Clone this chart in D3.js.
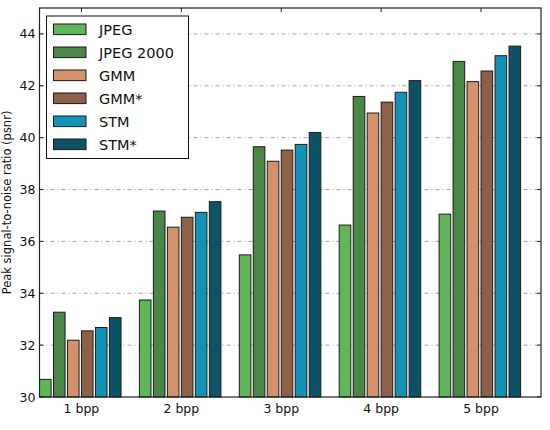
<!DOCTYPE html>
<html>
<head>
<meta charset="utf-8">
<script src="https://cdn.jsdelivr.net/npm/d3@7"></script>
<style>
  body { margin: 0; background: #fff; }
  svg { font-family: "DejaVu Sans", sans-serif; }
</style>
</head>
<body>
<svg class="chart-svg" width="550" height="430"></svg>
<script>
const categories = ["1 bpp", "2 bpp", "3 bpp", "4 bpp", "5 bpp"];
const series = ["JPEG", "JPEG 2000", "GMM", "GMM*", "STM", "STM*"];
const colors = ["#62b65a", "#4a8645", "#d4926b", "#8c6148", "#1293b5", "#0d5266"];
const jpeg     = [30.68, 33.74, 35.48, 36.63, 37.05];
const jpeg2000 = [33.27, 37.17, 39.65, 41.59, 42.94];
const gmm      = [32.19, 36.55, 39.09, 40.95, 42.16];
const gmmStar  = [32.55, 36.93, 39.52, 41.37, 42.57];
const stm      = [32.68, 37.12, 39.74, 41.75, 43.16];
const stmStar  = [33.06, 37.53, 40.20, 42.20, 43.53];
const yTicks = [30, 32, 34, 36, 38, 40, 42, 44];

const values = [jpeg, jpeg2000, gmm, gmmStar, stm, stmStar];

const margin = {left: 39.5, right: 9, top: 8, bottom: 33};
const W = 550, H = 430;

const svg = d3.select(".chart-svg");

const x = d3.scaleLinear().domain([0, 5.02]).range([margin.left, W - margin.right]);
const y = d3.scaleLinear().domain([30, 45]).range([H - margin.bottom, margin.top]);

const barStep = 0.14, barW = 0.116;

// grid lines
svg.append("g")
    .selectAll("line")
    .data(yTicks.filter(d => d > 30))
    .join("line")
    .attr("x1", x(0)).attr("x2", x(5.02))
    .attr("y1", d => y(d)).attr("y2", d => y(d))
    .attr("stroke", "#8a8a8a")
    .attr("stroke-width", 0.8)
    .attr("stroke-dasharray", "4,3,1,3");

// bars
const rows = [];
values.forEach((vals, k) => vals.forEach((v, i) => rows.push({k, i, v})));

svg.append("g")
    .selectAll("rect")
    .data(rows)
    .join("rect")
    .attr("x", d => x(d.i + d.k * barStep))
    .attr("width", x(barW) - x(0))
    .attr("y", d => y(d.v))
    .attr("height", d => y(30) - y(d.v))
    .attr("fill", d => colors[d.k])
    .attr("stroke", "#1a1a1a")
    .attr("stroke-width", 1);

// frame
svg.append("rect")
    .attr("x", x(0)).attr("y", y(45))
    .attr("width", x(5.02) - x(0))
    .attr("height", y(30) - y(45))
    .attr("fill", "none")
    .attr("stroke", "#222")
    .attr("stroke-width", 1.2);

// y ticks, inward on both sides
const tickG = svg.append("g").attr("stroke", "#222").attr("stroke-width", 1);
yTicks.forEach(t => {
    tickG.append("line").attr("x1", x(0)).attr("x2", x(0) + 4).attr("y1", y(t)).attr("y2", y(t));
    tickG.append("line").attr("x1", x(5.02)).attr("x2", x(5.02) - 4).attr("y1", y(t)).attr("y2", y(t));
});
categories.forEach((c, i) => {
    const cx = x(i + 0.42);
    tickG.append("line").attr("x1", cx).attr("x2", cx).attr("y1", y(45)).attr("y2", y(45) + 4);
});

svg.append("g")
    .selectAll("text")
    .data(yTicks)
    .join("text")
    .attr("x", x(0) - 4)
    .attr("y", d => y(d) + 4.5)
    .attr("text-anchor", "end")
    .attr("font-size", 12.5)
    .attr("fill", "#111")
    .text(d => d);

svg.append("g")
    .selectAll("text")
    .data(categories)
    .join("text")
    .attr("x", (d, i) => x(i + 0.42))
    .attr("y", H - margin.bottom + 16)
    .attr("text-anchor", "middle")
    .attr("font-size", 12.5)
    .attr("fill", "#111")
    .text(d => d);

svg.append("text")
    .attr("transform", `translate(11,${(y(30) + y(45)) / 2}) rotate(-90)`)
    .attr("text-anchor", "middle")
    .attr("font-size", 11.5)
    .attr("fill", "#111")
    .text("Peak signal-to-noise ratio (psnr)");

// legend
const lg = svg.append("g");
lg.append("rect")
    .attr("x", 46.5).attr("y", 16)
    .attr("width", 142).attr("height", 142.5)
    .attr("fill", "#fff")
    .attr("stroke", "#111")
    .attr("stroke-width", 1);
series.forEach((s, k) => {
    const cy = 29.3 + k * 23;
    lg.append("rect")
        .attr("x", 53.5).attr("y", cy - 5.3)
        .attr("width", 32.5).attr("height", 10.6)
        .attr("fill", colors[k])
        .attr("stroke", "#1a1a1a")
        .attr("stroke-width", 1);
    lg.append("text")
        .attr("x", 99).attr("y", cy + 5.3)
        .attr("font-size", 14.5)
        .attr("fill", "#111")
        .text(s);
});
</script>
</body>
</html>
